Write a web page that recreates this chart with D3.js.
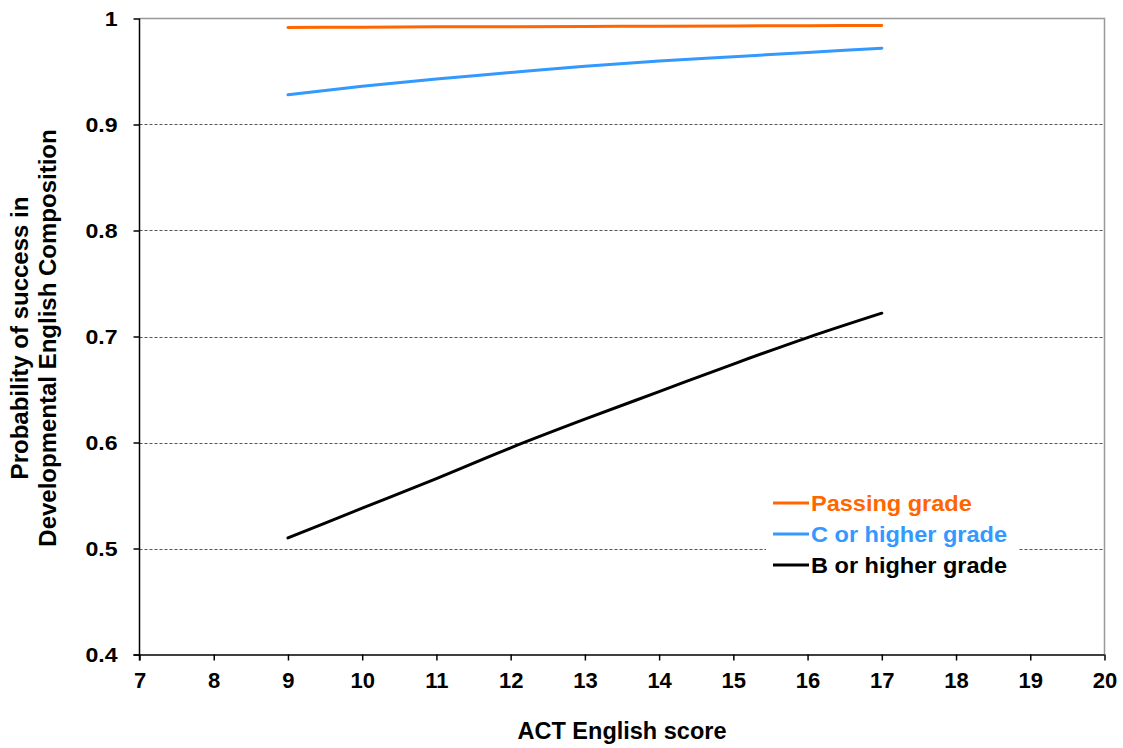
<!DOCTYPE html>
<html><head><meta charset="utf-8">
<script src="https://cdn.jsdelivr.net/npm/d3@7"></script>
<style>body{margin:0;background:#fff;}svg{display:block;font-family:"Liberation Sans",Arial,sans-serif;font-weight:bold;}</style>
</head><body><svg id="c" width="1123" height="748"></svg>
<script>
const scores = [9, 10, 11, 12, 13, 14, 15, 16, 17];
const passing = [0.9915, 0.9918, 0.9921, 0.9923, 0.9925, 0.9928, 0.9930, 0.9932, 0.9934];
const cOrHigher = [0.928, 0.936, 0.943, 0.949, 0.955, 0.960, 0.964, 0.968, 0.972];
const bOrHigher = [0.510, 0.538, 0.566, 0.595, 0.622, 0.648, 0.674, 0.699, 0.722];
const seriesNames = ["Passing grade", "C or higher grade", "B or higher grade"];
const seriesColors = ["#ff6600", "#3399ff", "#000000"];
const xTicks = [7, 8, 9, 10, 11, 12, 13, 14, 15, 16, 17, 18, 19, 20];
const yTicks = [0.4, 0.5, 0.6, 0.7, 0.8, 0.9, 1];

const svg = d3.select("#c");
const FONT = "Liberation Sans, Arial, sans-serif";
const L = 139.5, R = 1104.5, T = 18.5, B = 654.5;
const x = d3.scaleLinear().domain([7, 20]).range([L, R]);
const y = d3.scaleLinear().domain([0.4, 1]).range([B, T]);

// gridlines
svg.append("g").selectAll("line").data(yTicks.filter(v => v > 0.45 && v < 0.95)).join("line")
  .attr("x1", L).attr("x2", R).attr("y1", d => Math.round(y(d)) + 0.5).attr("y2", d => Math.round(y(d)) + 0.5)
  .attr("stroke", "#555").attr("stroke-width", 1).attr("stroke-dasharray", "3,2");

// top and right border
svg.append("path").attr("d", `M${L},${T}H${R}V${B}`).attr("fill", "none").attr("stroke", "#999").attr("stroke-width", 1.5);

// axes
const xAxis = d3.axisBottom(x).tickValues(xTicks).tickSizeInner(6).tickSizeOuter(0).tickPadding(12).tickFormat(d3.format("d"));
const gx = svg.append("g").attr("transform", `translate(0,${B})`).call(xAxis);
gx.select(".domain").attr("d", `M${L-6},0.5H${R}`).attr("stroke", "#000").attr("stroke-width", 1.5);
gx.selectAll(".tick line").attr("stroke", "#000").attr("stroke-width", 1.5);
gx.selectAll("text").attr("font-size", 22).attr("font-weight", "bold").attr("fill", "#000").attr("font-family", FONT);

const yAxis = d3.axisLeft(y).tickValues(yTicks).tickSizeInner(6).tickSizeOuter(0).tickPadding(14).tickFormat(d => d === 1 ? "1" : d3.format(".1f")(d));
const gy = svg.append("g").attr("transform", `translate(${L},0)`).call(yAxis);
gy.select(".domain").attr("d", `M0,${T}V${B+6}`).attr("stroke", "#000").attr("stroke-width", 1.5);
gy.selectAll(".tick line").attr("stroke", "#000").attr("stroke-width", 1.5);
gy.selectAll("text").attr("font-size", 21).attr("font-weight", "bold").attr("fill", "#000").attr("font-family", FONT)
  .attr("transform", "scale(1.1,1)");

// lines
const allSeries = [passing, cOrHigher, bOrHigher];
const line = d3.line().x((d, i) => x(scores[i])).y(d => y(d)).curve(d3.curveMonotoneX);
allSeries.forEach((s, k) => {
  svg.append("path").datum(s).attr("d", line).attr("fill", "none")
    .attr("stroke", seriesColors[k]).attr("stroke-width", 3).attr("stroke-linecap", "round");
});

// legend
const lg = svg.append("g");
lg.append("rect").attr("x", 766).attr("y", 486).attr("width", 252).attr("height", 94).attr("fill", "#fff");
seriesNames.forEach((n, k) => {
  const yy = 503 + k * 31;
  lg.append("line").attr("x1", 773).attr("x2", 809).attr("y1", yy).attr("y2", yy)
    .attr("stroke", seriesColors[k]).attr("stroke-width", 3);
  lg.append("g").attr("transform", `translate(811,${yy + 8}) scale(1.07,1)`)
    .append("text").attr("font-size", 22).attr("fill", seriesColors[k]).text(n);
});

// titles
svg.append("text").attr("x", (L + R) / 2).attr("y", 739).attr("text-anchor", "middle").attr("font-size", 23.5).text("ACT English score");
const yt = svg.append("text").attr("transform", "translate(0,338) rotate(-90)").attr("text-anchor", "middle").attr("font-size", 24);
yt.append("tspan").attr("x", 0).attr("y", 28).text("Probability of success in");
yt.append("tspan").attr("x", 0).attr("y", 56).text("Developmental English Composition");
</script></body></html>
